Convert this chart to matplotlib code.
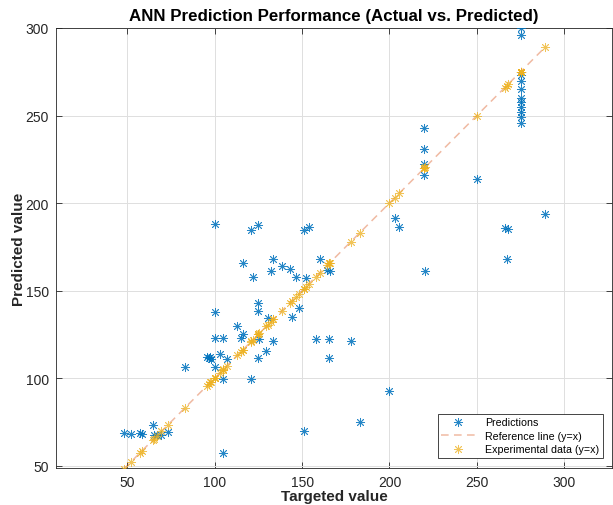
import numpy as np
import matplotlib
matplotlib.use("Agg")
import matplotlib.pyplot as plt

# Targeted (experimental) values and the network's predictions for each sample
targets = [
    48, 52, 57, 58.5, 64.5, 65, 67, 69.5, 73,
    83, 95.5, 96.5, 97.5, 98, 100, 100, 100, 100, 103, 104.5, 104.5, 105, 107,
    113, 115, 116, 116, 120.5, 121, 122, 125, 125, 125, 125.5, 125, 129.5,
    130.5, 132, 133.5, 133.5, 138.5, 143, 144, 146.5, 148, 151, 151, 152, 154,
    158, 160, 164.5, 166, 165.6, 165.6, 178, 183, 200, 203, 205.5,
    220, 220, 220, 220, 220.5, 250, 266, 268, 267,
    275, 275, 275, 275, 275, 275, 275, 275, 275, 275, 275, 289,
]
predicted = [
    68.5, 68.2, 68.8, 68, 72.9, 67.5, 67.2, 67.5, 69,
    106.3, 112, 111.5, 112, 111, 188, 138, 123, 106.3, 114, 99.6, 57, 123, 111,
    130, 123, 125.3, 165.7, 184.7, 99.6, 157.7, 187.6, 143, 138.3, 122.5, 111.6, 115.4,
    134.3, 161, 168, 121, 164, 162.5, 135, 157.7, 140, 184.7, 70, 157.3, 186.3,
    122.5, 168, 161.5, 161, 122.4, 111.6, 121, 74.6, 92.6, 191.5, 186.3,
    243, 230.6, 222.5, 216.2, 161, 213.5, 186, 185, 168,
    300, 296, 273, 270, 265, 260, 258, 255, 252, 249, 246, 194,
]

x_ticks = [50, 100, 150, 200, 250, 300]
y_ticks = [50, 100, 150, 200, 250, 300]

blue = "#0072BD"
yellow = "#EDB120"
orange = "#D95319"
text_col = "#262626"

plt.rcParams["font.family"] = ["Liberation Sans", "DejaVu Sans"]

fig = plt.figure(figsize=(6.13, 5.06), dpi=100)
ax = fig.add_axes([56 / 613, 37 / 506, 556 / 613, 440 / 506])

t = np.asarray(targets, dtype=float)
p = np.asarray(predicted, dtype=float)

asterisk = (8, 2, 0)

ax.plot(t, p, linestyle="none", marker=asterisk, markersize=6.5,
        markeredgewidth=0.6, color=blue, alpha=0.85, label="Predictions",
        zorder=3)
ax.plot([t.min(), t.max()], [t.min(), t.max()], linestyle=(0, (5, 3.5)),
        linewidth=1.1, color=orange, alpha=0.4, label="Reference line (y=x)",
        zorder=2)
ax.plot(t, t, linestyle="none", marker=asterisk, markersize=6.5,
        markeredgewidth=0.6, color=yellow, alpha=0.75,
        label="Experimental data (y=x)", zorder=4)

ax.set_xlim(9.2, 327.3)
ax.set_ylim(48.6, 300)
ax.set_xticks(x_ticks)
ax.set_yticks(y_ticks)
ax.grid(True, color="#dfdfdf", linewidth=0.7)
ax.set_axisbelow(True)
ax.tick_params(direction="in", length=4, width=0.6, colors=text_col,
               labelsize=10, top=True, right=True, pad=5)
for side in ax.spines.values():
    side.set_color(text_col)
    side.set_linewidth(0.6)

ax.set_title("ANN Prediction Performance (Actual vs. Predicted)",
             fontsize=12.2, fontweight="bold", color="black", pad=6)
ax.set_xlabel("Targeted value", fontsize=11, fontweight="bold",
              color=text_col, labelpad=0)
ax.set_ylabel("Predicted value", fontsize=11, fontweight="bold",
              color=text_col, labelpad=0)

leg = ax.legend(loc="lower right", fontsize=7.7, frameon=True, fancybox=False,
                edgecolor=text_col, framealpha=1, borderpad=0.35,
                labelspacing=0.32, handlelength=3.2, handletextpad=0.9,
                borderaxespad=0, bbox_to_anchor=(1 - 9 / 556, 10 / 440))
leg.get_frame().set_linewidth(0.6)

fig.savefig("out.png", dpi=100)
